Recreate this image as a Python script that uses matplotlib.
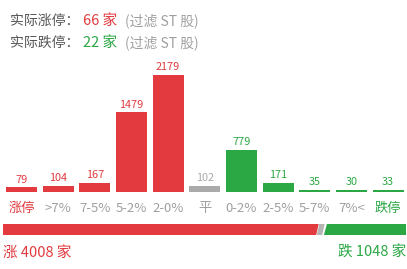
import matplotlib.pyplot as plt
from matplotlib.patches import Polygon

plt.rcParams['font.family'] = ['Noto Sans CJK SC', 'DejaVu Sans']

categories = ['涨停', '>7%', '7-5%', '5-2%', '2-0%', '平', '0-2%', '2-5%', '5-7%', '7%<', '跌停']
counts = [79, 104, 167, 1479, 2179, 102, 779, 171, 35, 30, 33]
limit_up, limit_down = 66, 22
rise_total, fall_total = 4008, 1048

RED = '#E23A3E'
GREEN = '#2BA744'
GRAY = '#AAAAAA'
TXT_GRAY = '#A0A0A0'
colors = [RED] * 5 + [GRAY] + [GREEN] * 5
label_colors = [RED] + [TXT_GRAY] * 9 + [GREEN]

W, H = 407, 269
fig = plt.figure(figsize=(W / 100, H / 100), dpi=100)

# header lines
for row, (name, val, col) in enumerate([('实际涨停：', limit_up, RED), ('实际跌停：', limit_down, GREEN)]):
    y = 1 - (21 + 22 * row) / H
    fig.text(10 / W, y, name, color='#555555', fontsize=10, va='center')
    fig.text(83 / W, y, f'{val} 家', color=col, fontsize=10.5, va='center')
    fig.text(125 / W, y, '(过滤 ST 股)', color=TXT_GRAY, fontsize=10, va='center')

# bar chart
base = H - 191.7
top = H - 75
ax = fig.add_axes([0, base / H, 1, (top - base) / H])
x = list(range(len(categories)))
pitch = 36.65
ax.bar(x, counts, width=31 / pitch, color=colors)
ax.set_xlim(-21.5 / pitch, 10 + (W - 388) / pitch)
ax.set_ylim(0, max(counts))
for i, v in enumerate(counts):
    ax.annotate(str(v), (i, v), xytext=(0, 2), textcoords='offset points',
                ha='center', va='bottom', fontsize=7.8, color=colors[i])
    ax.annotate(categories[i], (i, 0), xytext=(0, -12), textcoords='offset points',
                ha='center', va='center', fontsize=9.5, color=label_colors[i])
ax.axis('off')

# rise / fall ratio bar
bx = fig.add_axes([3 / W, 1 - 235 / H, (406 - 3) / W, 11 / H])
bx.set_xlim(0, 403)
bx.set_ylim(0, 1)
bx.axis('off')
split = 403 * rise_total / (rise_total + fall_total)
s = 2.5
bx.add_patch(Polygon([(0, 0), (split - 7, 0), (split - 7 + s, 1), (0, 1)], color=RED))
bx.add_patch(Polygon([(split - 5, 0), (split - 1, 0), (split - 1 + s, 1), (split - 5 + s, 1)], color='#B5B5B5'))
bx.add_patch(Polygon([(split + 2, 0), (403, 0), (403, 1), (split + 2 + s, 1)], color=GREEN))

fig.text(3 / W, 1 - 253 / H, f'涨 {rise_total} 家', color=RED, fontsize=10.5, va='center')
fig.text(406 / W, 1 - 253 / H, f'跌 {fall_total} 家', color=GREEN, fontsize=10.5, va='center', ha='right')

fig.savefig('out.png', dpi=100)
